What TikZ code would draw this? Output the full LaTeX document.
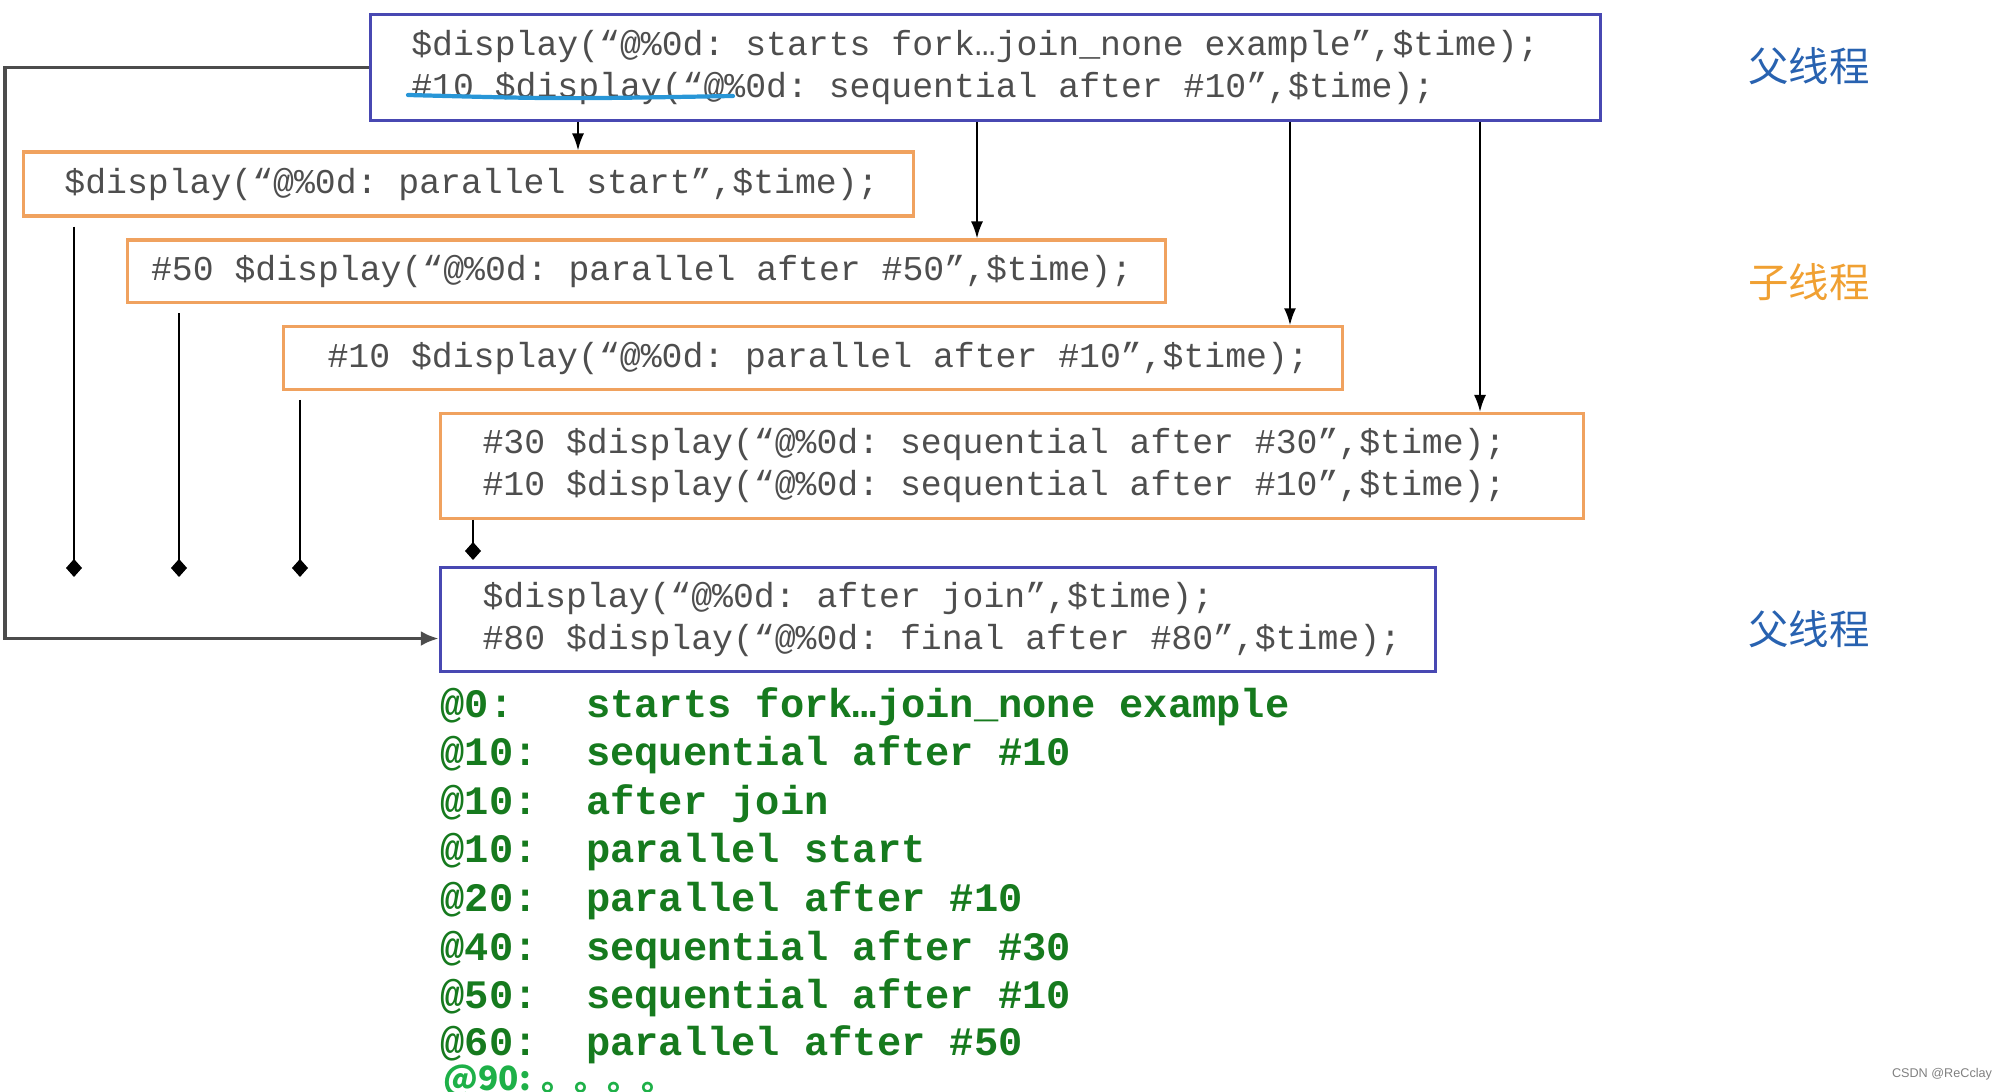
\documentclass[tikz,border=0pt]{standalone}
\usepackage{fontspec}
\setmonofont{Liberation Mono}
\setsansfont{Liberation Sans}
\newfontfamily\cjk{Noto Sans CJK SC}
\usetikzlibrary{positioning,arrows.meta}

\definecolor{parentblue}{RGB}{72,72,178}
\definecolor{childorange}{RGB}{240,162,95}
\definecolor{codegray}{RGB}{78,78,78}
\definecolor{outgreen}{RGB}{22,122,30}
\definecolor{lightgreen}{RGB}{30,176,72}
\definecolor{labelblue}{RGB}{40,98,176}
\definecolor{labelorange}{RGB}{240,160,50}
\definecolor{markblue}{RGB}{40,150,215}

\begin{document}
\begin{tikzpicture}[font=\ttfamily, >={Latex[length=0.17cm,width=0.12cm]}]

	% Stili per blocchi, frecce e testi
	\tikzset{
		parentbox/.style={
			draw=parentblue,
			line width=0.9pt,
			anchor=north west,
			inner sep=0pt
		},
		childbox/.style={
			draw=childorange,
			line width=0.9pt,
			anchor=north west,
			inner sep=0pt
		},
		codetext/.style={
			font=\ttfamily\fontsize{9.9pt}{11.9pt}\selectfont,
			text=codegray,
			align=left,
			inner sep=0pt
		},
		forkarrow/.style={
			->,
			line width=0.6pt
		},
		joinwait/.style={
			-{Diamond[length=0.18cm,width=0.16cm]},
			line width=0.7pt
		},
		parentloop/.style={
			-{Latex[length=0.18cm,width=0.15cm]},
			draw=black!70,
			line width=1pt
		},
		threadlabel/.style={
			font=\cjk\fontsize{11.5pt}{13pt}\selectfont
		},
		outrow/.style={
			anchor=base west,
			inner sep=0pt,
			font=\ttfamily\bfseries\fontsize{11.5pt}{13pt}\selectfont,
			text=outgreen
		}
	}

	\useasboundingbox (0,0) rectangle (20,-10.92);

	% Thread padre (inizio)
	\node[parentbox, minimum width=12.30cm, minimum height=1.06cm] (top) at (3.686,-0.128) {};
	\node[codetext, right=0.42cm of top.west] (toptxt) {\$display(“@\%0d: starts fork…join\_none example”,\$time);\\\#10 \$display(“@\%0d: sequential after \#10”,\$time);};
	\draw[markblue, line width=1.2pt, line cap=round] (4.08,-0.95) .. controls (5.6,-0.99) .. (7.33,-0.96);

	% Thread figli
	\node[childbox, minimum width=8.90cm, minimum height=0.64cm] (ps) at (0.217,-1.505) {};
	\node[codetext, right=0.42cm of ps.west] (pstxt) {\$display(“@\%0d: parallel start”,\$time);};

	\node[childbox, minimum width=10.38cm, minimum height=0.625cm] (p50) at (1.263,-2.385) {};
	\node[codetext, right=0.24cm of p50.west] (p50txt) {\#50 \$display(“@\%0d: parallel after \#50”,\$time);};

	\node[childbox, minimum width=10.59cm, minimum height=0.625cm] (p10) at (2.819,-3.253) {};
	\node[codetext, right=0.45cm of p10.west] (p10txt) {\#10 \$display(“@\%0d: parallel after \#10”,\$time);};

	\node[childbox, minimum width=11.43cm, minimum height=1.046cm] (seq) at (4.388,-4.120) {};
	\node[codetext, right=0.43cm of seq.west] (seqtxt) {\#30 \$display(“@\%0d: sequential after \#30”,\$time);\\\#10 \$display(“@\%0d: sequential after \#10”,\$time);};

	% Thread padre (dopo join)
	\node[parentbox, minimum width=9.95cm, minimum height=1.033cm] (join) at (4.388,-5.663) {};
	\node[codetext, right=0.43cm of join.west] (jointxt) {\$display(“@\%0d: after join”,\$time);\\\#80 \$display(“@\%0d: final after \#80”,\$time);};

	% Frecce di fork
	\coordinate (fa) at (5.78,0);
	\coordinate (fb) at (9.77,0);
	\coordinate (fc) at (12.90,0);
	\coordinate (fd) at (14.80,0);
	\draw[forkarrow] (top.south -| fa) -- (ps.north -| fa);
	\draw[forkarrow] (top.south -| fb) -- (p50.north -| fb);
	\draw[forkarrow] (top.south -| fc) -- (p10.north -| fc);
	\draw[forkarrow] (top.south -| fd) -- (seq.north -| fd);

	% Fine dei thread figli
	\coordinate (wa) at (0.74,-5.77);
	\coordinate (wb) at (1.79,-5.77);
	\coordinate (wc) at (3.00,-5.77);
	\coordinate (wd) at (4.73,-5.60);
	\draw[joinwait, shorten <=0.09cm] (ps.south -| wa) -- (wa);
	\draw[joinwait, shorten <=0.09cm] (p50.south -| wb) -- (wb);
	\draw[joinwait, shorten <=0.09cm] (p10.south -| wc) -- (wc);
	\draw[joinwait] (seq.south -| wd) -- (wd);

	% Il padre prosegue subito
	\coordinate (lx) at (0.05,0);
	\coordinate (jin) at ([yshift=-0.19cm]join.west);
	\draw[parentloop] (top.west) -| (lx |- jin) -- (jin);

	% Etichette dei thread
	\node[threadlabel, text=labelblue] (tpa) at (18.09,-0.663) {父线程};
	\node[threadlabel, text=labelorange] (tch) at (18.09,-2.819) {子线程};
	\node[threadlabel, text=labelblue] (tpb) at (18.09,-6.288) {父线程};

	% Uscita della simulazione
	\node[outrow] (r0) at (4.40,-7.175) {@0:\ \ \ starts fork…join\_none example};
	\node[outrow] (r1) at (4.40,-7.660) {@10:\ \ sequential after \#10};
	\node[outrow] (r2) at (4.40,-8.145) {@10:\ \ after join};
	\node[outrow] (r3) at (4.40,-8.630) {@10:\ \ parallel start};
	\node[outrow] (r4) at (4.40,-9.115) {@20:\ \ parallel after \#10};
	\node[outrow] (r5) at (4.40,-9.600) {@40:\ \ sequential after \#30};
	\node[outrow] (r6) at (4.40,-10.085) {@50:\ \ sequential after \#10};
	\node[outrow] (r7) at (4.40,-10.550) {@60:\ \ parallel after \#50};
	\node[outrow, font=\cjk\bfseries\fontsize{9.5pt}{11pt}\selectfont, text=lightgreen] (r8) at (4.43,-10.90) {@90: 。。。。};

	\node[font=\sffamily\fontsize{3.6pt}{4pt}\selectfont, text=gray] (mark) at (19.42,-10.74) {CSDN @ReCclay};

\end{tikzpicture}
\end{document}
